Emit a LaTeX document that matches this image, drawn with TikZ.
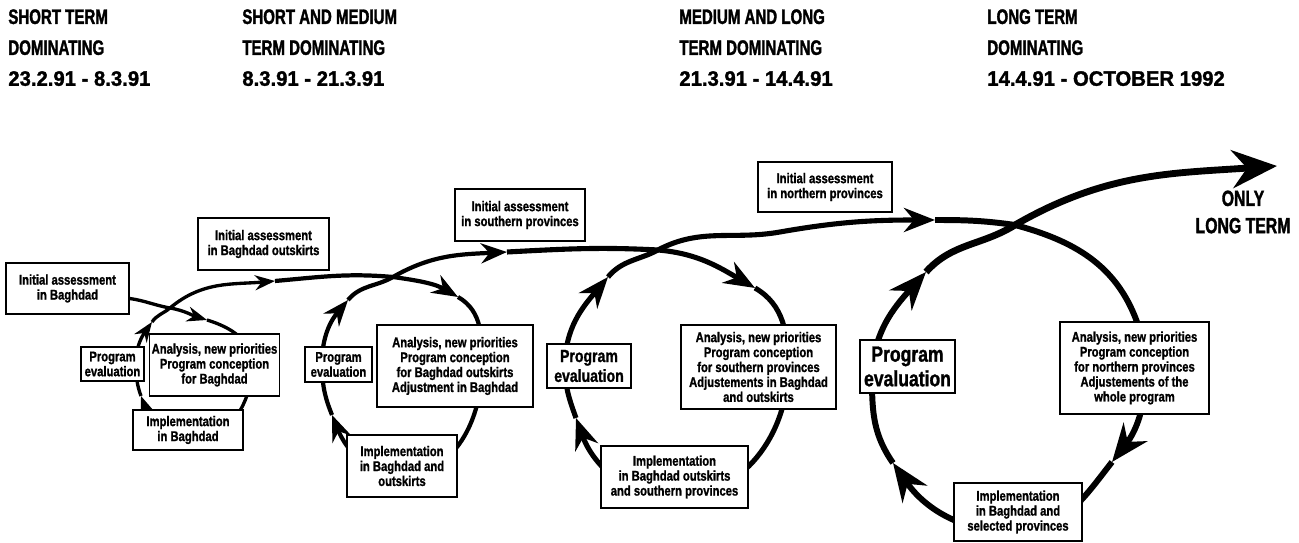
\documentclass[tikz,border=0pt]{standalone}
\usepackage{fontspec}
\newfontfamily\condfont{Liberation Sans}[FakeStretch=0.72, BoldFeatures={FakeBold=1.5}]
\newfontfamily\boxfont{Liberation Sans}[FakeStretch=0.8, BoldFeatures={FakeBold=1.2}]
\newfontfamily\datefont{Liberation Sans}[FakeStretch=0.97, BoldFeatures={FakeBold=1.5}]
\usetikzlibrary{arrows.meta, backgrounds}

\begin{document}
\begin{tikzpicture}[
x=0.02cm, y=0.02cm,
stagehead/.style={anchor=north west, align=left, inner sep=0pt, font=\condfont\bfseries\fontsize{11.9}{17.6}\selectfont},
stepbox/.style={draw, fill=white, line width=0.6pt, align=center, inner sep=1pt, font=\boxfont\bfseries\fontsize{8}{8.5}\selectfont},
evalmid/.style={stepbox, font=\boxfont\bfseries\fontsize{10}{11.3}\selectfont},
evalbig/.style={stepbox, font=\boxfont\bfseries\fontsize{12.5}{14}\selectfont},
spiral1/.style={line width=1.9pt, -{Stealth[length=0.4cm, width=0.3cm, inset=0.13cm]}},
spiral2/.style={line width=2.4pt, -{Stealth[length=0.52cm, width=0.4cm, inset=0.17cm]}},
spiral3/.style={line width=2.9pt, -{Stealth[length=0.62cm, width=0.48cm, inset=0.2cm]}},
spiral4/.style={line width=3.4pt, -{Stealth[length=0.76cm, width=0.6cm, inset=0.25cm]}},
spiralend/.style={line width=3.9pt, -{Stealth[length=0.9cm, width=0.76cm, inset=0.3cm]}}
]
\useasboundingbox (0,0) rectangle (1299,543);

% phases
\node[stagehead] (head1) at (8,534) {SHORT TERM\\DOMINATING\\\datefont 23.2.91 - 8.3.91};
\node[stagehead] (head2) at (242,534) {SHORT AND MEDIUM\\TERM DOMINATING\\\datefont 8.3.91 - 21.3.91};
\node[stagehead] (head3) at (679,534) {MEDIUM AND LONG\\TERM DOMINATING\\\datefont 21.3.91 - 14.4.91};
\node[stagehead] (head4) at (987,534) {LONG TERM\\DOMINATING\\\datefont 14.4.91 - OCTOBER 1992};
\node[stagehead, anchor=center, align=center, font=\condfont\bfseries\fontsize{12.5}{15.5}\selectfont] (onlylong) at (1243,331) {ONLY\\LONG TERM};

% loop 1
\node[stepbox, minimum width=2.46cm, minimum height=1.02cm] (init1) at (67.5,254.5) {Initial assessment\\in Baghdad};
\node[stepbox, minimum width=1.26cm, minimum height=0.68cm] (eval1) at (112.5,179) {Program\\evaluation};
\node[stepbox, minimum width=2.3cm, minimum height=1.24cm] (anal1) at (214.5,178) {Analysis, new priorities\\Program conception\\for Baghdad};
\node[stepbox, minimum width=2.2cm, minimum height=0.8cm] (impl1) at (188,113) {Implementation\\in Baghdad};

% loop 2
\node[stepbox, minimum width=2.62cm, minimum height=1.04cm] (init2) at (263.5,299) {Initial assessment\\in Baghdad outskirts};
\node[stepbox, minimum width=1.34cm, minimum height=0.7cm] (eval2) at (338.5,178.5) {Program\\evaluation};
\node[stepbox, minimum width=3.12cm, minimum height=1.64cm] (anal2) at (455,177) {Analysis, new priorities\\Program conception\\for Baghdad outskirts\\Adjustment in Baghdad};
\node[stepbox, minimum width=2.2cm, minimum height=1.24cm] (impl2) at (402,77) {Implementation\\in Baghdad and\\outskirts};

% loop 3
\node[stepbox, minimum width=2.6cm, minimum height=1.04cm] (init3) at (520,328) {Initial assessment\\in southern provinces};
\node[evalmid, minimum width=1.68cm, minimum height=0.88cm] (eval3) at (589,177) {Program\\evaluation};
\node[stepbox, minimum width=3.1cm, minimum height=1.68cm] (anal3) at (758.5,176) {Analysis, new priorities\\Program conception\\for southern provinces\\Adjustements in Baghdad\\and outskirts};
\node[stepbox, minimum width=2.94cm, minimum height=1.24cm] (impl3) at (674.5,66) {Implementation\\in Baghdad outskirts\\and southern provinces};

% loop 4
\node[stepbox, minimum width=2.68cm, minimum height=1cm] (init4) at (825,356) {Initial assessment\\in northern provinces};
\node[evalbig, minimum width=1.9cm, minimum height=1.06cm] (eval4) at (907.5,176.5) {Program\\evaluation};
\node[stepbox, minimum width=2.98cm, minimum height=1.84cm] (anal4) at (1134.5,175) {Analysis, new priorities\\Program conception\\for northern provinces\\Adjustements of the\\whole program};
\node[stepbox, minimum width=2.56cm, minimum height=1.16cm] (impl4) at (1018,31) {Implementation\\in Baghdad and\\selected provinces};

% points of the spiral
\coordinate (cross1) at (170,235);
\coordinate (tip1a) at (207,223);
\coordinate (right1) at (252,178);
\coordinate (bot1) at (192,103);
\coordinate (tip1b) at (141,147);
\coordinate (left1) at (136,180);
\coordinate (tip1c) at (152,221);
\coordinate (tip1d) at (275,262);
\coordinate (cross2) at (393,266);
\coordinate (tip2a) at (458,246);
\coordinate (right2) at (482,177);
\coordinate (bot2) at (402,68);
\coordinate (tip2b) at (332,128);
\coordinate (left2) at (322,180);
\coordinate (tip2c) at (348,243);
\coordinate (tip2d) at (507,291);
\coordinate (cross3) at (658,293);
\coordinate (tip3a) at (755,255);
\coordinate (right3) at (788,176);
\coordinate (bot3) at (675,46);
\coordinate (tip3b) at (576,125);
\coordinate (left3) at (565,177);
\coordinate (tip3c) at (608,266);
\coordinate (way3) at (780,311);
\coordinate (tip3d) at (935,323);
\coordinate (cross4) at (1015,318);
\coordinate (top4) at (1137,221);
\coordinate (right4) at (1146,175);
\coordinate (tip4a) at (1112,81);
\coordinate (bot4) at (1015,11);
\coordinate (tip4b) at (893,80);
\coordinate (left4) at (872,163);
\coordinate (tip4c) at (926,271);
\coordinate (tipend) at (1277,377);

\begin{scope}[on background layer]
\draw[spiral1] ([yshift=-0.2cm]init1.east) to[out=-8,in=170] (cross1) to[out=-10,in=163] (tip1a);
\draw[spiral1] (tip1a) to[out=-17,in=90] (right1) to[out=-90,in=0] (bot1) to[out=180,in=-70] (tip1b);
\draw[spiral1] (tip1b) to[out=110,in=-90] (left1) to[out=90,in=-125] (tip1c);
\draw[spiral1] (tip1c) to[out=55,in=-140] (cross1) to[out=40,in=185] (tip1d);
\draw[spiral2] (tip1d) to[out=5,in=175] (cross2) to[out=-8,in=150] (tip2a);
\draw[spiral2] (tip2a) to[out=-30,in=90] (right2) to[out=-90,in=0] (bot2) to[out=180,in=-68] (tip2b);
\draw[spiral2] (tip2b) to[out=112,in=-90] (left2) to[out=90,in=-130] (tip2c);
\draw[spiral2] (tip2c) to[out=50,in=-150] (cross2) to[out=30,in=183] (tip2d);
\draw[spiral3] (tip2d) to[out=3,in=177] (cross3) to[out=-5,in=150] (tip3a);
\draw[spiral3] (tip3a) to[out=-30,in=90] (right3) to[out=-90,in=0] (bot3) to[out=180,in=-70] (tip3b);
\draw[spiral3] (tip3b) to[out=110,in=-90] (left3) to[out=90,in=-130] (tip3c);
\draw[spiral3] (tip3c) to[out=50,in=-152] (cross3) to[out=28,in=190] (way3) to[out=10,in=180] (tip3d);
\draw[spiral4] (tip3d) to[out=0,in=172] (cross4) to[out=-15,in=110] (top4) to[out=-70,in=90] (right4) to[out=-90,in=52] (tip4a);
\draw[spiral4] (tip4a) to[out=-128,in=0] (bot4) to[out=180,in=-55] (tip4b);
\draw[spiral4] (tip4b) to[out=125,in=-90] (left4) to[out=90,in=-132] (tip4c);
\draw[spiralend] (tip4c) to[out=48,in=-148] (cross4) to[out=30,in=184] (tipend);
\end{scope}
\end{tikzpicture}
\end{document}
